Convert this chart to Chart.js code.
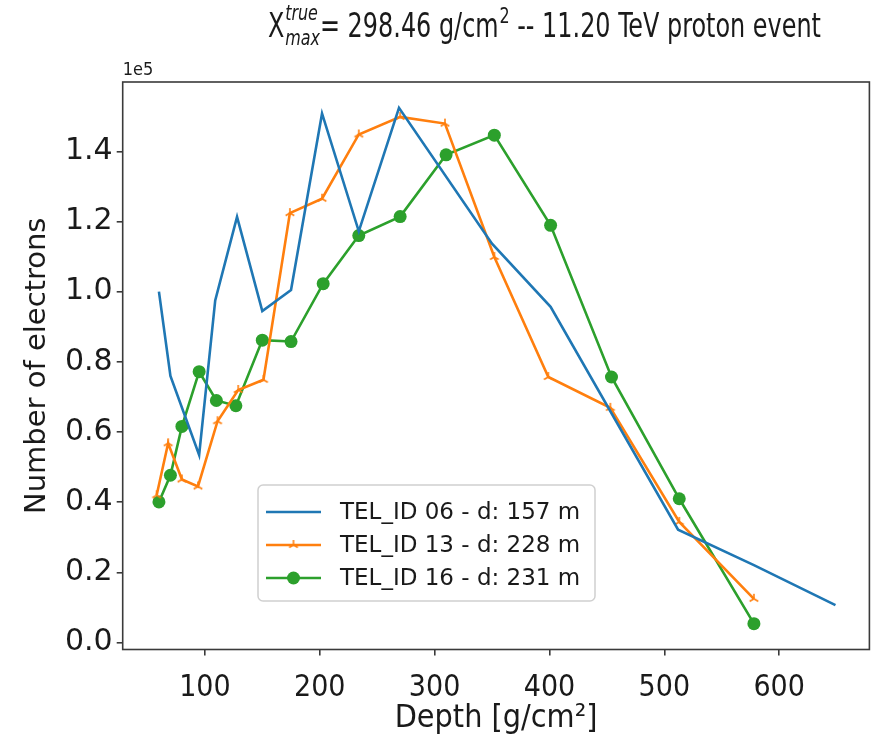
<!DOCTYPE html>
<html>
<head>
<meta charset="utf-8">
<script src="https://cdn.jsdelivr.net/npm/chart.js@4.4.1/dist/chart.umd.min.js"></script>
<style>
html,body{margin:0;padding:0;background:#fff;}
#wrap{width:877px;height:737px;position:relative;}
</style>
</head>
<body>
<div id="wrap"><canvas id="c" width="877" height="737"></canvas></div>
<script>
// ---- data ----
const depthTel06 = [60, 70, 95, 109, 128, 150, 175, 202, 234, 269, 350, 401, 512, 578, 649];
const electronsTel06 = [100000, 76000, 53500, 97500, 121300, 94500, 100500, 150800, 117200, 152400, 113700, 95700, 32200, 22100, 10700];
const depthTel13 = [58, 68, 80, 94, 111, 129, 151, 174, 202, 234, 270, 309, 352, 399, 453, 513, 578];
const electronsTel13 = [42000, 56800, 46500, 44500, 63100, 72000, 74900, 122400, 126500, 144800, 149800, 147900, 109900, 75700, 66900, 34400, 12500];
const depthTel16 = [60, 70, 80, 95, 110, 127, 150, 175, 203, 234, 270, 310, 352, 401, 454, 513, 578];
const electronsTel16 = [40100, 47700, 61600, 77200, 69000, 67500, 86200, 85800, 102300, 116000, 121400, 139000, 144600, 118900, 75700, 41000, 5400];
const seriesLabels = ['TEL_ID 06 - d: 157 m', 'TEL_ID 13 - d: 228 m', 'TEL_ID 16 - d: 231 m'];
const xTickValues = [100, 200, 300, 400, 500, 600];
const yTickValues = [0, 20000, 40000, 60000, 80000, 100000, 120000, 140000];
const yScaleFactor = 1e5;
const yOffsetText = '1e5';
const xAxisTitle = 'Depth [g/cm\u00B2]';
const yAxisTitle = 'Number of electrons';
const titleLead = 'X';
const titleSup = 'true';
const titleSub = 'max';
const titleMid = '= 298.46 g/cm';
const titleSup2 = '2';
const titleTail = ' -- 11.20 TeV proton event';

const COND = '"DejaVu Sans Condensed", "Liberation Sans Narrow", "DejaVu Sans", sans-serif';
const SANS = '"DejaVu Sans", sans-serif';
const TEXT = '#1a1a1a';
const AXC = '#3a3a3a';
const colors = ['#1f77b4', '#ff7f0e', '#2ca02c'];

function toPoints(xs, ys) { return xs.map((x, i) => ({x: x, y: ys[i]})); }

function triUp(color, size, lw) {
  const s = Math.ceil(size * 2 + 4);
  const c = document.createElement('canvas');
  c.width = s; c.height = s;
  const g = c.getContext('2d');
  g.strokeStyle = color; g.lineWidth = lw; g.lineCap = 'butt';
  const cx = s / 2, cy = s / 2;
  g.beginPath();
  g.moveTo(cx, cy); g.lineTo(cx, cy - size);
  g.moveTo(cx, cy); g.lineTo(cx - size * 0.866, cy + size * 0.5);
  g.moveTo(cx, cy); g.lineTo(cx + size * 0.866, cy + size * 0.5);
  g.stroke();
  return c;
}
const triMarker = triUp(colors[1], 5, 1.6);

// matplotlib-like 5% margins
const allX = depthTel06.concat(depthTel13, depthTel16);
const allY = electronsTel06.concat(electronsTel13, electronsTel16);
const xMinD = Math.min(...allX), xMaxD = Math.max(...allX);
const yMinD = Math.min(...allY), yMaxD = Math.max(...allY);
const xPad = (xMaxD - xMinD) * 0.05, yPad = (yMaxD - yMinD) * 0.05;

const decorPlugin = {
  id: 'decor',
  afterDraw(chart) {
    const ctx = chart.ctx;
    const a = chart.chartArea;
    ctx.save();
    // axes box
    ctx.strokeStyle = AXC; ctx.lineWidth = 1.6;
    ctx.strokeRect(a.left, a.top, a.right - a.left, a.bottom - a.top);

    // offset text
    ctx.fillStyle = TEXT;
    ctx.font = '18px ' + COND;
    ctx.textAlign = 'left'; ctx.textBaseline = 'alphabetic';
    ctx.fillText(yOffsetText, a.left, a.top - 7);

    // title with super/subscripts (narrow, as in the reference)
    const S = 33, SS = Math.round(S * 0.68);
    const mainF = S + 'px ' + COND, smallF = SS + 'px ' + COND, itF = 'italic ' + SS + 'px ' + COND;
    ctx.font = mainF;
    const wLead = ctx.measureText(titleLead).width + 1;
    const wMid = ctx.measureText(titleMid).width + 1;
    const wTail = ctx.measureText(titleTail).width;
    ctx.font = itF;
    const wScript = Math.max(ctx.measureText(titleSup).width, ctx.measureText(titleSub).width);
    ctx.font = smallF;
    const wSup2 = ctx.measureText(titleSup2).width;
    const total = wLead + wScript + wMid + wSup2 + wTail;
    const x0 = 268, x1 = 821, base = 37;
    const sx = (x1 - x0) / total;
    ctx.translate(x0, 0);
    ctx.scale(sx, 1);
    let x = 0;
    ctx.font = mainF; ctx.fillText(titleLead, x, base); x += wLead;
    ctx.font = itF; ctx.fillText(titleSup, x, base - 17); ctx.fillText(titleSub, x, base + 8); x += wScript;
    ctx.font = mainF; ctx.fillText(titleMid, x, base); x += wMid;
    ctx.font = smallF; ctx.fillText(titleSup2, x, base - 14); x += wSup2;
    ctx.font = mainF; ctx.fillText(titleTail, x, base);
    ctx.setTransform(1, 0, 0, 1, 0, 0);

    // legend
    const lx = 258, ly = 485, lw = 337, lh = 116, r = 5;
    ctx.beginPath();
    ctx.moveTo(lx + r, ly);
    ctx.arcTo(lx + lw, ly, lx + lw, ly + lh, r);
    ctx.arcTo(lx + lw, ly + lh, lx, ly + lh, r);
    ctx.arcTo(lx, ly + lh, lx, ly, r);
    ctx.arcTo(lx, ly, lx + lw, ly, r);
    ctx.closePath();
    ctx.fillStyle = 'rgba(255,255,255,0.8)';
    ctx.fill();
    ctx.strokeStyle = '#d0d0d0'; ctx.lineWidth = 1.5;
    ctx.stroke();
    const rows = [512, 545, 578];
    chart.data.datasets.forEach((ds, i) => {
      const y = rows[i];
      ctx.strokeStyle = ds.borderColor; ctx.lineWidth = 2.6;
      ctx.beginPath(); ctx.moveTo(266, y); ctx.lineTo(321, y); ctx.stroke();
      if (i === 1) {
        ctx.drawImage(triMarker, 293.5 - triMarker.width / 2, y - triMarker.height / 2);
      } else if (i === 2) {
        ctx.fillStyle = ds.borderColor;
        ctx.beginPath(); ctx.arc(293.5, y, 6.5, 0, Math.PI * 2); ctx.fill();
      }
      ctx.fillStyle = TEXT;
      ctx.font = '23px ' + SANS;
      ctx.textAlign = 'left'; ctx.textBaseline = 'middle';
      ctx.fillText(ds.label, 340, y + 1);
    });
    ctx.restore();
  }
};

new Chart(document.getElementById('c'), {
  type: 'line',
  data: {
    datasets: [
      {label: seriesLabels[0], data: toPoints(depthTel06, electronsTel06), borderColor: colors[0], backgroundColor: colors[0], borderWidth: 2.6, pointRadius: 0, pointHoverRadius: 0, tension: 0},
      {label: seriesLabels[1], data: toPoints(depthTel13, electronsTel13), borderColor: colors[1], backgroundColor: colors[1], borderWidth: 2.6, pointStyle: triMarker, pointRadius: 5, pointHoverRadius: 5, tension: 0},
      {label: seriesLabels[2], data: toPoints(depthTel16, electronsTel16), borderColor: colors[2], backgroundColor: colors[2], borderWidth: 2.6, pointStyle: 'circle', pointRadius: 6.5, pointBorderWidth: 0, pointHoverRadius: 6.5, tension: 0}
    ]
  },
  options: {
    responsive: false,
    animation: false,
    devicePixelRatio: 1,
    layout: {padding: {top: 82, right: 3, left: 0, bottom: 0}},
    plugins: {legend: {display: false}, tooltip: {enabled: false}, title: {display: false}},
    scales: {
      x: {
        type: 'linear',
        min: xMinD - xPad, max: xMaxD + xPad,
        afterBuildTicks: (s) => { s.ticks = xTickValues.map(v => ({value: v})); },
        afterFit: (s) => { s.height = 87.5; },
        grid: {drawOnChartArea: false, drawTicks: true, tickLength: 6, color: AXC, lineWidth: 1.6},
        border: {display: false},
        ticks: {color: TEXT, font: {family: COND, size: 30}, padding: 15, maxRotation: 0, autoSkip: false, callback: (v) => String(v)},
        title: {display: true, text: xAxisTitle, color: TEXT, font: {family: COND, size: 32}, padding: {top: 0, bottom: -1}}
      },
      y: {
        type: 'linear',
        min: yMinD - yPad, max: yMaxD + yPad,
        afterBuildTicks: (s) => { s.ticks = yTickValues.map(v => ({value: v})); },
        afterFit: (s) => { s.width = 122.7; },
        grid: {drawOnChartArea: false, drawTicks: true, tickLength: 6, color: AXC, lineWidth: 1.6},
        border: {display: false},
        ticks: {color: TEXT, font: {family: SANS, size: 30}, padding: 4, autoSkip: false, callback: (v) => (v / yScaleFactor).toFixed(1)},
        title: {display: true, text: yAxisTitle, color: TEXT, font: {family: SANS, size: 29}, padding: {top: 20, bottom: 0}}
      }
    }
  },
  plugins: [decorPlugin]
});
</script>
</body>
</html>
